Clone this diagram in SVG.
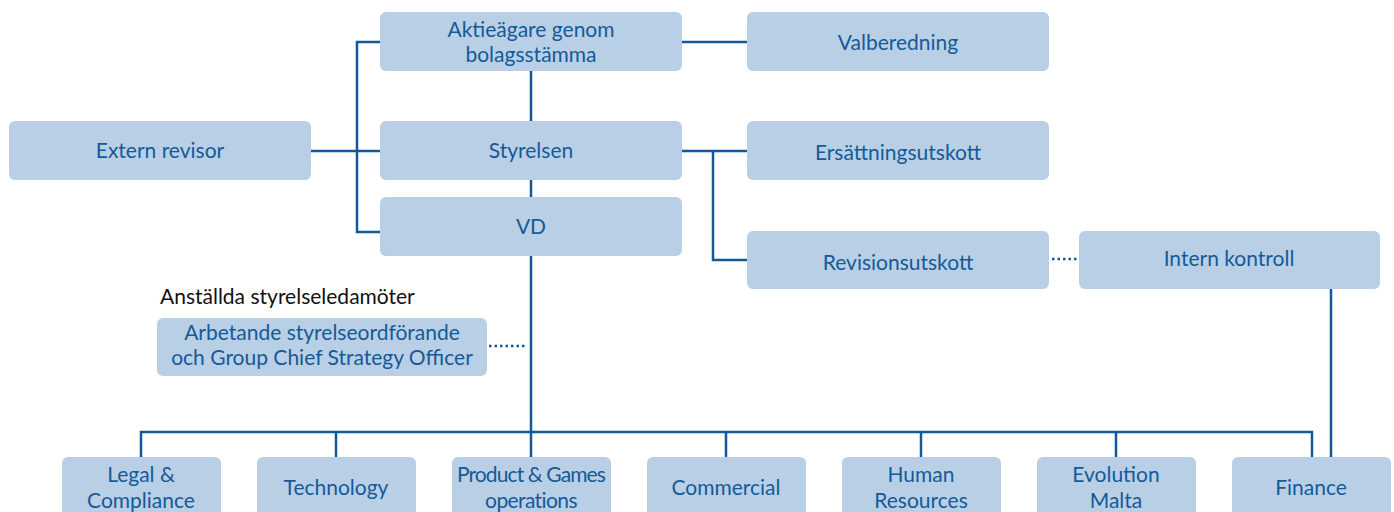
<svg xmlns="http://www.w3.org/2000/svg" width="1394" height="512" viewBox="0 0 1394 512">
<style>
.box{fill:#b8cfe6}
.t{font-family:Lato,"Liberation Sans",sans-serif;font-size:21px;fill:#155a98;text-anchor:middle}
.c{stroke:#13599a;stroke-width:2.5;fill:none}
.d{stroke:#13599a;stroke-width:2.5;fill:none;stroke-dasharray:2.5 3}
</style>
<rect width="1394" height="512" fill="#fff"/>
<g id="connectors">
<path class="c" d="M682 42H747"/>
<path class="c" d="M531 71V121M531 180V197M531 256V432"/>
<path class="c" d="M380 42H357V232H380M311 151H380"/>
<path class="c" d="M682 151H747M713 151V260H747"/>
<path class="d" d="M1052 259H1078"/>
<path class="d" d="M489 346H527"/>
<path class="c" d="M1331 289V457"/>
<path class="c" d="M141 457V432H1312V457M336 432V457M531 432V457M726 432V457M921 432V457M1116 432V457"/>
</g>
<g id="aktieagare"><rect class="box" x="380" y="12" width="302" height="59" rx="6"/><text class="t" x="531" y="37">Aktieägare genom</text><text class="t" x="531" y="62">bolagsstämma</text></g>
<g id="valberedning"><rect class="box" x="747" y="12" width="302" height="59" rx="6"/><text class="t" x="898" y="50">Valberedning</text></g>
<g id="extern"><rect class="box" x="9" y="121" width="302" height="59" rx="6"/><text class="t" x="160" y="158">Extern revisor</text></g>
<g id="styrelsen"><rect class="box" x="380" y="121" width="302" height="59" rx="6"/><text class="t" x="531" y="158">Styrelsen</text></g>
<g id="ersattning"><rect class="box" x="747" y="121" width="302" height="59" rx="6"/><text class="t" x="898" y="160">Ersättningsutskott</text></g>
<g id="vd"><rect class="box" x="380" y="197" width="302" height="59" rx="6"/><text class="t" x="531" y="234">VD</text></g>
<g id="revision"><rect class="box" x="747" y="231" width="302" height="58" rx="6"/><text class="t" x="898" y="270">Revisionsutskott</text></g>
<g id="intern"><rect class="box" x="1079" y="231" width="301" height="58" rx="6"/><text class="t" x="1229" y="266">Intern kontroll</text></g>
<text x="160" y="304" style="font-family:Lato,'Liberation Sans',sans-serif;font-size:21px;fill:#111">Anställda styrelseledamöter</text>
<g id="arbetande"><rect class="box" x="157" y="318" width="330" height="58" rx="6"/><text class="t" x="322" y="340">Arbetande styrelseordförande</text><text class="t" x="322" y="365">och Group Chief Strategy Officer</text></g>
<g id="legal"><rect class="box" x="62" y="457" width="159" height="62" rx="6"/><text class="t" x="141" y="482">Legal &amp;</text><text class="t" x="141" y="508">Compliance</text></g>
<g id="technology"><rect class="box" x="257" y="457" width="159" height="62" rx="6"/><text class="t" x="336" y="495">Technology</text></g>
<g id="product"><rect class="box" x="452" y="457" width="159" height="62" rx="6"/><text class="t" x="531" y="482" letter-spacing="-0.9">Product &amp; Games</text><text class="t" x="531" y="508" letter-spacing="-0.6">operations</text></g>
<g id="commercial"><rect class="box" x="647" y="457" width="159" height="62" rx="6"/><text class="t" x="726" y="495">Commercial</text></g>
<g id="human"><rect class="box" x="842" y="457" width="159" height="62" rx="6"/><text class="t" x="921" y="482">Human</text><text class="t" x="921" y="508">Resources</text></g>
<g id="evolution"><rect class="box" x="1037" y="457" width="159" height="62" rx="6"/><text class="t" x="1116" y="482">Evolution</text><text class="t" x="1116" y="508">Malta</text></g>
<g id="finance"><rect class="box" x="1232" y="457" width="159" height="62" rx="6"/><text class="t" x="1311" y="495">Finance</text></g>
</svg>
